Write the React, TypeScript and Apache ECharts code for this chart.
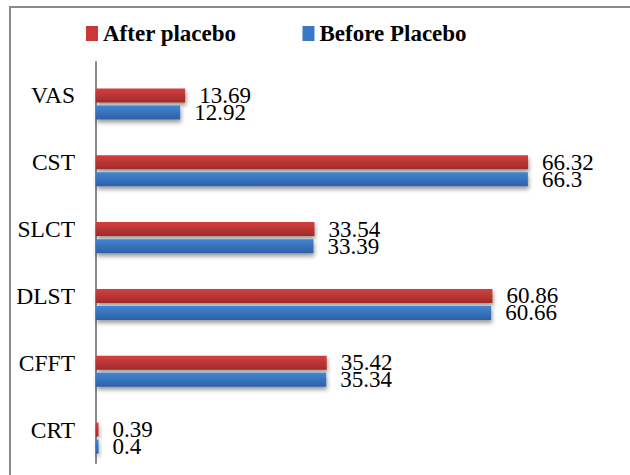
import React, { useEffect, useRef } from "react";
import * as echarts from "echarts";

const categories = ["CRT", "CFFT", "DLST", "SLCT", "CST", "VAS"];
const afterPlacebo = [0.39, 35.42, 60.86, 33.54, 66.32, 13.69];
const beforePlacebo = [0.4, 35.34, 60.66, 33.39, 66.3, 12.92];
const seriesNames = ["After placebo", "Before Placebo"];

const FONT = "Liberation Serif";

export default function App() {
  const ref = useRef<HTMLDivElement>(null);
  useEffect(() => {
    if (!ref.current) return;
    const chart = echarts.init(ref.current, null, { renderer: "svg" });
    const redGrad = new echarts.graphic.LinearGradient(0, 0, 0, 1, [
      { offset: 0, color: "#d24040" },
      { offset: 1, color: "#a22a2a" },
    ]);
    const blueGrad = new echarts.graphic.LinearGradient(0, 0, 0, 1, [
      { offset: 0, color: "#4285d2" },
      { offset: 1, color: "#2d60a6" },
    ]);
    const shadow = {
      shadowBlur: 4,
      shadowOffsetY: 3,
      shadowOffsetX: 1,
      shadowColor: "rgba(0,0,0,0.4)",
    };
    const labelStyle = {
      show: true,
      position: "right" as const,
      distance: 14,
      fontFamily: FONT,
      fontSize: 23,
      color: "#000",
    };
    chart.setOption({
      animation: false,
      backgroundColor: "#fff",
      graphic: [
        {
          type: "rect",
          shape: { x: 10, y: 7, width: 640, height: 490 },
          style: { fill: "none", stroke: "#8a8a8a", lineWidth: 2 },
          silent: true,
        },
      ],
      legend: {
        data: [
          { name: seriesNames[0], itemStyle: { color: "#c93737" } },
          { name: seriesNames[1], itemStyle: { color: "#3a78c6" } },
        ],
        left: 81,
        top: 17,
        icon: "rect",
        itemWidth: 12,
        itemHeight: 15,
        itemGap: 66,
        textStyle: {
          fontFamily: FONT,
          fontWeight: "bold",
          fontSize: 23,
          color: "#000",
        },
      },
      grid: { left: 96, top: 62, width: 456, height: 401, containLabel: false },
      xAxis: {
        type: "value",
        min: 0,
        max: 70,
        show: false,
      },
      yAxis: {
        type: "category",
        data: categories,
        axisLine: { show: true, lineStyle: { color: "#8a8a8a", width: 2 } },
        axisTick: { show: false },
        axisLabel: {
          fontFamily: FONT,
          fontSize: 23.5,
          color: "#000",
          margin: 21,
        },
        splitLine: { show: false },
      },
      series: [
        {
          name: "spacer",
          type: "bar",
          data: categories.map(() => "-"),
          barWidth: 14,
          barGap: "22%",
          itemStyle: { color: "transparent" },
        },
        {
          name: seriesNames[0],
          type: "bar",
          data: afterPlacebo,
          barWidth: 14,
          barGap: "22%",
          itemStyle: { color: redGrad, ...shadow },
          label: labelStyle,
        },
        {
          name: seriesNames[1],
          type: "bar",
          data: beforePlacebo,
          barWidth: 14,
          barGap: "22%",
          itemStyle: { color: blueGrad, ...shadow },
          label: labelStyle,
        },
      ],
    });
    return () => chart.dispose();
  }, []);
  return (
    <div
      ref={ref}
      style={{ position: "absolute", left: 0, top: 0, width: 630, height: 475 }}
    />
  );
}
